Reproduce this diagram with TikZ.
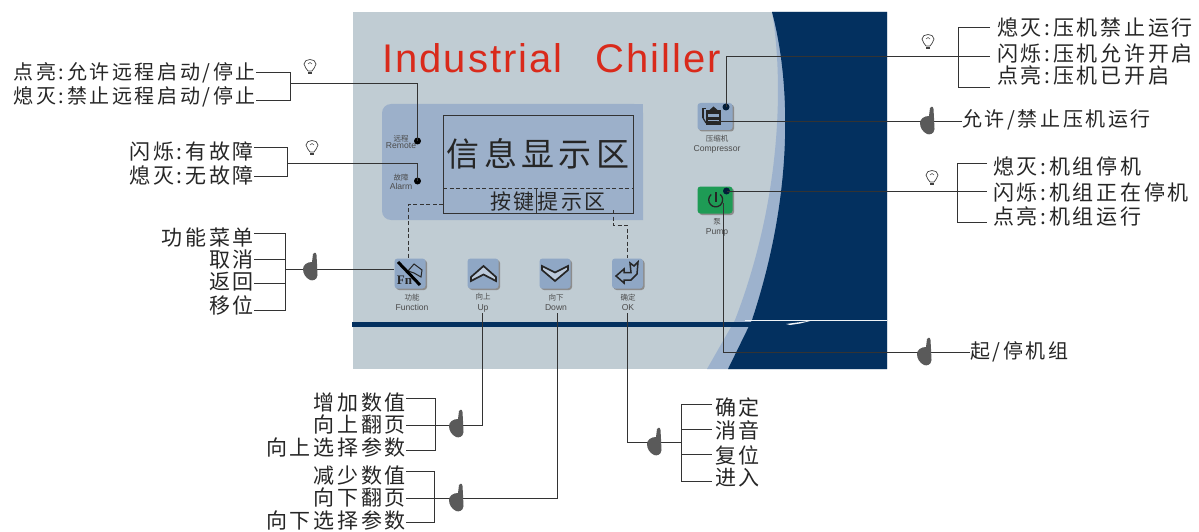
\documentclass[tikz,border=0pt]{standalone}
\usepackage{fontspec}
\setmainfont{Liberation Sans}
\newfontfamily\cjk[LetterSpace=13]{Noto Sans CJK SC}
\newfontfamily\cjksmall{Noto Sans CJK SC}
\newfontfamily\titlefont[LetterSpace=5]{Liberation Sans}
\newfontfamily\fnfont{Liberation Serif}
\usetikzlibrary{shadows}
\definecolor{panelc}{HTML}{C0CCD3}
\definecolor{bandc}{HTML}{9DB2CD}
\definecolor{darkc}{HTML}{03305F}
\definecolor{lcdc}{HTML}{9CB0CA}
\definecolor{keyc}{HTML}{8FA7C5}
\definecolor{greenc}{HTML}{1E9B55}
\definecolor{redc}{HTML}{D92A1B}
\definecolor{linec}{HTML}{333333}
\definecolor{handc}{HTML}{5A5A5A}
\tikzset{
  lbl/.style={inner sep=0pt,font=\cjk\fontsize{21}{21}\selectfont,text=black!85},
  lblsm/.style={lbl,font=\cjk\fontsize{20}{20}\selectfont},
  conn/.style={draw=linec,line width=0.9pt},
  dashconn/.style={draw=linec,line width=0.8pt,dash pattern=on 4pt off 2.5pt},
  keybtn/.style={fill=keyc,rounded corners=3pt,minimum width=31pt,minimum height=30pt,inner sep=0pt,
    drop shadow={shadow xshift=1.5pt,shadow yshift=-1.5pt,fill=black!45,opacity=1}},
  sidebtn/.style={keybtn,minimum width=35pt,minimum height=27pt},
  led/.style={circle,fill=black,inner sep=0pt,minimum size=7pt},
  ledb/.style={circle,fill=darkc!60!black,inner sep=0pt,minimum size=7pt},
  tiny/.style={inner sep=0pt,align=center,text=black!70,font=\fontsize{8.6}{10.5}\selectfont},
  pics/hand/.style={code={
    \fill[handc] (2,-13) .. controls (3,-15) and (5,-15) .. (5.5,-12) -- (6,-3) -- (6.5,8)
      .. controls (6,13) and (2,14) .. (-1,13) .. controls (-5,11) and (-8,7) .. (-8,2)
      .. controls (-8,-2) and (-4,-5) .. (1,-5) -- cycle;
  }},
  pics/bulb/.style={code={
    \draw[black!75,line width=0.7pt] (-2,5) .. controls (-2.5,3) and (-6,1.5) .. (-6,-2)
      .. controls (-6,-8) and (6,-8) .. (6,-2) .. controls (6,1.5) and (2.5,3) .. (2,5) -- cycle;
    \draw[black!75,line width=1.2pt] (-1.8,7) -- (1.8,7);
    \draw[black!75,line width=0.5pt] (-2,-2) -- (0,-3.5) -- (2,-2);
  }}
}
\newcommand{\cjt}[1]{{\cjksmall\fontsize{7.5}{10.5}\selectfont #1}}
\begin{document}
\begin{tikzpicture}[x=1pt,y=-1pt]
\useasboundingbox (0,0) rectangle (1199,532);
\fill[white] (0,0) rectangle (1199,532);
% panel
\fill[panelc] (353,12) rectangle (887,369);
\fill[bandc] (772,12) .. controls (782,70) and (785,190) .. (735,320) -- (707,369) -- (887,369) -- (887,12) -- cycle;
\fill[darkc] (772,12) .. controls (790,80) and (795,190) .. (752,320) -- (728,369) -- (887,369) -- (887,12) -- cycle;
\fill[darkc] (352,322) rectangle (887,327);
\fill[white!85!bandc] (745,320) rectangle (887,321);
\fill[white!85!bandc] (786,324) -- (812,320.5) -- (800,323.5) -- (790,325) -- cycle;
\node[anchor=base west,inner sep=0pt,text=redc,font=\titlefont\fontsize{40}{40}\selectfont] (title) at (382,73) {Industrial\hspace{20pt} Chiller};
% LCD
\fill[lcdc,rounded corners=9pt] (382,104) -- (643,104) [sharp corners] -- (643,220) [rounded corners=9pt] -- (382,220) -- cycle;
\fill[lcdc] (620,104) rectangle (643,220);
\draw[linec,line width=0.9pt] (443,115) rectangle (633,213);
\draw[dashconn] (443,188) -- (633,188);
\draw[linec,line width=0.7pt] (536,188) -- (536,213);
\node[inner sep=0pt,text=black!85,font=\cjk\fontsize{33}{33}\selectfont] (infoarea) at (538,154) {信息显示区};
\node[inner sep=0pt,text=black!85,font=\cjk\fontsize{21}{21}\selectfont] (hintarea) at (548,202) {按键提示区};
% keys
\node[keybtn] (kFn) at (410,273.5) {};
\node[keybtn] (kUp) at (483,273.5) {};
\node[keybtn] (kDown) at (555,273.5) {};
\node[keybtn] (kOK) at (627.5,273.5) {};
\node[sidebtn] (kComp) at (715,116.5) {};
\node[sidebtn,fill=greenc] (kPump) at (715,200) {};
% key icons
\node[inner sep=0pt,font=\fnfont\bfseries\fontsize{13}{13}\selectfont,text=black!85] (fnlabel) at (404.5,280) {Fn};
\draw[black!85,line width=1pt] (408,271) -- (414,264) -- (422,270) -- (421,277) -- (414,273) -- cycle;
\draw[black,line width=3pt] (398,262) -- (420,285);
\draw[black!85,line width=1.7pt,line join=miter,fill=keyc!60!white] (471,277) -- (483.5,266) -- (496,277) -- (496,281) -- (483.5,274.5) -- (471,281) -- cycle;
\draw[black!85,line width=1.7pt,line join=miter,fill=keyc!60!white] (542,266) -- (555,272.5) -- (568,266) -- (568,270) -- (555,281) -- (542,270) -- cycle;
\draw[black!85,line width=1.5pt] (616,276) -- (624,269) -- (624,272.5) -- (631,272.5) -- (630,263) -- (634,266) -- (638,262) -- (637,274) -- (631,280) -- (624,280) -- (624,283) -- cycle;
\fill[black!85] (706,110) rectangle (721,125);
\fill[keyc] (708,114) rectangle (719,117);
\fill[keyc] (708,120) rectangle (719,121);
\fill[black!85] (709.5,110) -- (713.5,106.5) -- (717.5,110) -- cycle;
\draw[black!85,line width=1.2pt] (703,118) -- (703,108.5) -- (706,108.5);
\draw[black!85,line width=1.2pt] (706,123) -- (703,118);
\draw[black!85,line width=1.3pt] (711.2,194.5) arc[start angle=230,end angle=-50,radius=7];
\draw[black!85,line width=1.3pt] (716,192) -- (716,202);
% small labels
\node[tiny] (tRemote) at (401,142) {\cjt{远程}\\[-3pt]Remote};
\node[tiny] (tAlarm) at (401,182) {\cjt{故障}\\[-1pt]Alarm};
\node[tiny] (tFn) at (412,302.5) {\cjt{功能}\\Function};
\node[tiny] (tUp) at (483,302.5) {\cjt{向上}\\Up};
\node[tiny] (tDown) at (556,302.5) {\cjt{向下}\\Down};
\node[tiny] (tOK) at (628,302.5) {\cjt{确定}\\OK};
\node[tiny] (tComp) at (717,144) {\cjt{压缩机}\\Compressor};
\node[tiny] (tPump) at (717,227.5) {\cjt{泵}\\Pump};
% LEDs
\node[led] (dRemote) at (417.5,141) {};
\node[led] (dAlarm) at (417.5,181) {};
\node[ledb] (dComp) at (726,107) {};
\node[ledb] (dPump) at (726.5,191) {};
% junction coordinates
\coordinate (b1a) at (290,72); \coordinate (b1b) at (290,100); \coordinate (b1) at (290,83);
\coordinate (b2a) at (287,147); \coordinate (b2b) at (287,176); \coordinate (b2) at (287,163);
\coordinate (b3a) at (285,233); \coordinate (b3b) at (285,259); \coordinate (b3c) at (285,283); \coordinate (b3d) at (285,310); \coordinate (b3) at (285,269);
\coordinate (b4a) at (958,27); \coordinate (b4b) at (958,56); \coordinate (b4c) at (958,87);
\coordinate (b5a) at (957,163); \coordinate (b5b) at (957,192); \coordinate (b5c) at (957,222);
\coordinate (b6a) at (435,398); \coordinate (b6b) at (435,425); \coordinate (b6c) at (435,450);
\coordinate (b7a) at (434,471); \coordinate (b7b) at (434,498); \coordinate (b7c) at (434,522);
\coordinate (b8a) at (681,404); \coordinate (b8b) at (681,429); \coordinate (b8c) at (681,454); \coordinate (b8d) at (681,481); \coordinate (b8) at (681,442);
\coordinate (end4) at (990,0); \coordinate (end5) at (987,0); \coordinate (end8) at (712,0);
% left texts
\node[lblsm,anchor=east] (t1a) at (256,73) {点亮:允许远程启动/停止};
\node[lblsm,anchor=east] (t1b) at (256,97) {熄灭:禁止远程启动/停止};
\node[lbl,anchor=east] (t2a) at (254,151) {闪烁:有故障};
\node[lbl,anchor=east] (t2b) at (254,175) {熄灭:无故障};
\node[lbl,anchor=east] (t3a) at (254,238) {功能菜单};
\node[lbl,anchor=east] (t3b) at (254,260) {取消};
\node[lbl,anchor=east] (t3c) at (254,282) {返回};
\node[lbl,anchor=east] (t3d) at (254,305) {移位};
% right texts
\node[lbl,anchor=west] (t4a) at (997,28) {熄灭:压机禁止运行};
\node[lbl,anchor=west] (t4b) at (997,53) {闪烁:压机允许开启};
\node[lbl,anchor=west] (t4c) at (997,76) {点亮:压机已开启};
\node[lblsm,anchor=west] (t5) at (962,120) {允许/禁止压机运行};
\node[lbl,anchor=west] (t6a) at (993,166) {熄灭:机组停机};
\node[lbl,anchor=west] (t6b) at (993,192) {闪烁:机组正在停机};
\node[lbl,anchor=west] (t6c) at (993,216) {点亮:机组运行};
\node[lblsm,anchor=west] (t7) at (970,352) {起/停机组};
% bottom texts
\node[lbl,anchor=east] (t8a) at (406,403) {增加数值};
\node[lbl,anchor=east] (t8b) at (406,425) {向上翻页};
\node[lbl,anchor=east] (t8c) at (406,447) {向上选择参数};
\node[lbl,anchor=east] (t9a) at (406,476) {减少数值};
\node[lbl,anchor=east] (t9b) at (406,498) {向下翻页};
\node[lbl,anchor=east] (t9c) at (406,520) {向下选择参数};
\node[lbl,anchor=west] (t10a) at (715,407) {确定};
\node[lbl,anchor=west] (t10b) at (715,430) {消音};
\node[lbl,anchor=west] (t10c) at (715,455) {复位};
\node[lbl,anchor=west] (t10d) at (715,478) {进入};
% brackets
\draw[conn] (t1a.east |- b1a) -- (b1a) -- (b1b) -- (t1b.east |- b1b);
\draw[conn] (t2a.east |- b2a) -- (b2a) -- (b2b) -- (t2b.east |- b2b);
\draw[conn] (t3a.east |- b3a) -- (b3a) -- (b3d) -- (t3d.east |- b3d);
\draw[conn] (b3b) -- (t3b.east |- b3b);
\draw[conn] (b3c) -- (t3c.east |- b3c);
\draw[conn] (end4 |- b4a) -- (b4a) -- (b4c) -- (end4 |- b4c);
\draw[conn] (end5 |- b5a) -- (b5a) -- (b5c) -- (end5 |- b5c);
\draw[conn] (t8a.east |- b6a) -- (b6a) -- (b6c) -- (t8c.east |- b6c);
\draw[conn] (t9a.east |- b7a) -- (b7a) -- (b7c) -- (t9c.east |- b7c);
\draw[conn] (end8 |- b8a) -- (b8a) -- (b8d) -- (end8 |- b8d);
\draw[conn] (b8b) -- (end8 |- b8b);
\draw[conn] (b8c) -- (end8 |- b8c);
% connectors
\draw[conn] (b1) -| (dRemote.center);
\draw[conn] (b2) -| (dAlarm.center);
\draw[conn] (b3) -- (kFn.west |- b3);
\draw[conn] (dComp.center) |- (end4 |- b4b);
\coordinate (compkey) at (717,121);
\draw[conn] (compkey) -- (t5.west |- compkey);
\draw[conn] (dPump.center) -- (dPump.center -| end5);
\coordinate (pumpkey) at (723,203); \coordinate (pumpturn) at (723,352);
\draw[conn] (pumpkey) -- (pumpturn) -- (t7.west |- pumpturn);
\coordinate (upkey) at (482.5,313); \coordinate (upturn) at (482.5,425);
\draw[conn] (upkey) -- (upturn) -- (t8b.east |- upturn);
\coordinate (downkey) at (557,313); \coordinate (downturn) at (557,498);
\draw[conn] (downkey) -- (downturn) -- (t9b.east |- downturn);
\coordinate (okkey) at (627,313); \coordinate (okturn) at (627,442);
\draw[conn] (okkey) -- (okturn) -- (b8);
% dashed
\coordinate (dfa) at (443,204); \coordinate (dfb) at (408,204);
\draw[dashconn] (dfa) -- (dfb) -- (dfb |- kFn.north);
\coordinate (dka) at (613,210); \coordinate (dkb) at (613,225); \coordinate (dkc) at (627,225);
\draw[dashconn] (dka) -- (dkb) -- (dkc) -- (dkc |- kOK.north);
% hands and bulbs
\pic at (311,267) {hand};
\pic at (928,121) {hand};
\pic at (925,352) {hand};
\pic at (457,424) {hand};
\pic at (457,498) {hand};
\pic at (655,442) {hand};
\pic at (310,66) {bulb};
\pic at (312,147) {bulb};
\pic at (928,41) {bulb};
\pic at (932,177) {bulb};
\end{tikzpicture}
\end{document}
